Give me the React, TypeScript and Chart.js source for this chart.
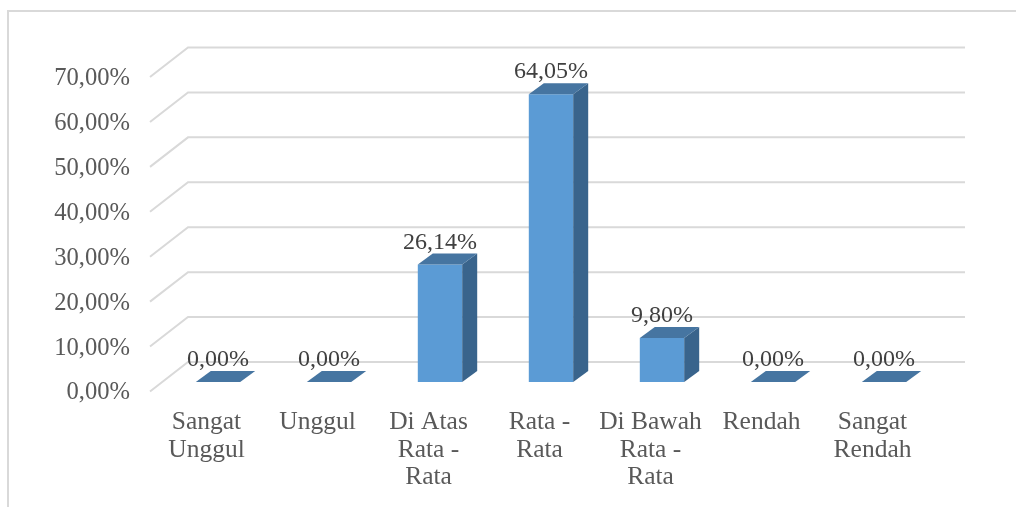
import React, { useEffect, useRef } from "react";
import { Chart, registerables } from "chart.js";

Chart.register(...registerables);

const categories = [
  ["Sangat", "Unggul"],
  "Unggul",
  ["Di Atas", "Rata -", "Rata"],
  ["Rata -", "Rata"],
  ["Di Bawah", "Rata -", "Rata"],
  "Rendah",
  ["Sangat", "Rendah"],
];
const percentages = [0, 0, 26.14, 64.05, 9.8, 0, 0];

const FONT = '"Liberation Serif", serif';
const FRONT = "#5B9BD5";
const TOP = "#4675A1";
const SIDE = "#39648C";
const GRID = "#D9D9D9";

// Depth of the 3D projection
const WALL_DX = 38;
const WALL_DY = -29.5;
const BAR_DX = 12.5;
const BAR_DY = -9.5;
const DEPTH_DX = 15;
const DEPTH_DY = -11;

const fmt = (v: number) => v.toFixed(2).replace(".", ",") + "%";

const frame3d = {
  id: "frame3d",
  beforeDraw(chart: any) {
    const { ctx, width, height } = chart;
    ctx.save();
    ctx.strokeStyle = "#D9D9D9";
    ctx.lineWidth = 2;
    ctx.beginPath();
    ctx.moveTo(8, height);
    ctx.lineTo(8, 11);
    ctx.lineTo(width, 11);
    ctx.stroke();
    ctx.restore();
  },
  beforeDatasetsDraw(chart: any) {
    const { ctx, chartArea, scales } = chart;
    const y = scales.y;
    ctx.save();
    ctx.strokeStyle = GRID;
    ctx.lineWidth = 2;
    y.ticks.forEach((t: any) => {
      const py = y.getPixelForValue(t.value);
      ctx.beginPath();
      ctx.moveTo(chartArea.left, py);
      ctx.lineTo(chartArea.left + WALL_DX, py + WALL_DY);
      ctx.lineTo(chartArea.right + WALL_DX, py + WALL_DY);
      ctx.stroke();
    });
    ctx.restore();
    // Bars stand in the middle of the floor's depth
    ctx.save();
    ctx.translate(BAR_DX, BAR_DY);
  },
  afterDatasetsDraw(chart: any) {
    const { ctx } = chart;
    const bars = chart.getDatasetMeta(0).data;
    bars.forEach((bar: any) => {
      const half = bar.width / 2;
      const l = bar.x - half;
      const r = bar.x + half;
      const t = bar.y;
      const b = bar.base;
      ctx.fillStyle = SIDE;
      ctx.beginPath();
      ctx.moveTo(r, t);
      ctx.lineTo(r + DEPTH_DX, t + DEPTH_DY);
      ctx.lineTo(r + DEPTH_DX, b + DEPTH_DY);
      ctx.lineTo(r, b);
      ctx.closePath();
      ctx.fill();
      ctx.fillStyle = TOP;
      ctx.beginPath();
      ctx.moveTo(l, t);
      ctx.lineTo(l + DEPTH_DX, t + DEPTH_DY);
      ctx.lineTo(r + DEPTH_DX, t + DEPTH_DY);
      ctx.lineTo(r, t);
      ctx.closePath();
      ctx.fill();
    });
    ctx.fillStyle = "#404040";
    ctx.font = `24px ${FONT}`;
    ctx.textAlign = "center";
    ctx.textBaseline = "alphabetic";
    bars.forEach((bar: any, i: number) => {
      ctx.fillText(fmt(percentages[i]), bar.x, bar.y - 16);
    });
    ctx.restore();
  },
};

export default function App() {
  const ref = useRef<HTMLCanvasElement>(null);
  useEffect(() => {
    const chart = new Chart(ref.current as HTMLCanvasElement, {
      type: "bar",
      data: {
        labels: categories as any,
        datasets: [
          {
            data: percentages,
            backgroundColor: FRONT,
            borderWidth: 0,
            barPercentage: 0.4,
            categoryPercentage: 1,
          },
        ],
      },
      options: {
        responsive: false,
        animation: false,
        layout: { padding: { top: 77, right: 89, left: 0, bottom: 0 } },
        plugins: { legend: { display: false }, tooltip: { enabled: false } },
        scales: {
          x: {
            grid: { display: false, drawTicks: false },
            border: { display: false },
            afterFit: (s: any) => {
              s.height = 115.5;
            },
            ticks: {
              color: "#595959",
              padding: 17,
              labelOffset: 1,
              maxRotation: 0,
              autoSkip: false,
              font: { family: FONT, size: 25.5, lineHeight: 1.08 },
            },
          },
          y: {
            min: 0,
            max: 70,
            grid: { display: false, drawTicks: false },
            border: { display: false },
            afterFit: (s: any) => {
              s.width = 150;
            },
            ticks: {
              stepSize: 10,
              color: "#595959",
              padding: 20,
              labelOffset: 1.5,
              font: { family: FONT, size: 24.6 },
              callback: (v: any) => fmt(Number(v)),
            },
          },
        },
      },
      plugins: [frame3d],
    } as any);
    return () => chart.destroy();
  }, []);
  return (
    <div style={{ position: "fixed", left: 0, top: 0, background: "#fff" }}>
      <canvas ref={ref} width={1016} height={507} style={{ display: "block" }} />
    </div>
  );
}
